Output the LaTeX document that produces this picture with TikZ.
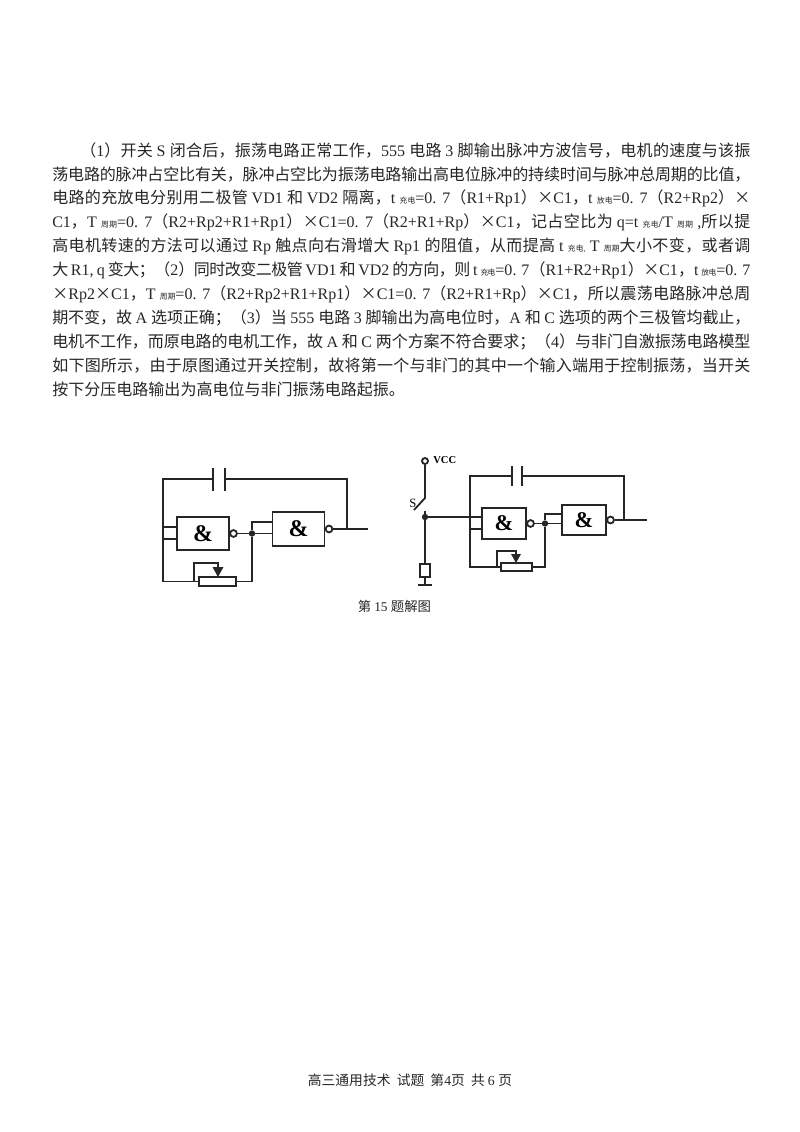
\documentclass[tikz,border=0pt]{standalone}
\usepackage{fontspec}
\setmainfont{Liberation Serif}
\newfontfamily\cjk{Noto Sans CJK SC}
\XeTeXinterchartokenstate=1
\newcount\cjkcode
\cjkcode="4E00
\loop\ifnum\cjkcode<"A000 \XeTeXcharclass\cjkcode=1 \advance\cjkcode by 1 \repeat
\cjkcode="3000
\loop\ifnum\cjkcode<"3040 \XeTeXcharclass\cjkcode=1 \advance\cjkcode by 1 \repeat
\cjkcode="FF00
\loop\ifnum\cjkcode<"FF60 \XeTeXcharclass\cjkcode=1 \advance\cjkcode by 1 \repeat
\XeTeXcharclass`×=1
\XeTeXinterchartoks 0 1={\cjk}
\XeTeXinterchartoks 4095 1={\cjk}
\XeTeXinterchartoks 1 0={\rmfamily}
\XeTeXinterchartoks 4095 0={\rmfamily}
\XeTeXinterchartoks 1 1={\hskip 0pt plus 2pt minus 0.5pt}
\newcommand{\xs}[1]{{\fontsize{5.5}{6}\selectfont #1}}
\tikzset{
  wire/.style={line width=1.3pt,color=black!85},
  textline/.style={anchor=west,inner sep=0pt,font=\fontsize{11.4}{13}\selectfont,color=black!85},
  biggate/.style={draw=black!85,line width=1.3pt,minimum width=1.3cm,minimum height=0.83cm,inner sep=0pt,font=\fontsize{17}{17}\selectfont\bfseries},
  smallgate/.style={draw=black!85,line width=1.3pt,minimum width=1.1cm,minimum height=0.77cm,inner sep=0pt,font=\fontsize{16}{16}\selectfont\bfseries},
  bubble/.style={circle,draw=black!85,line width=1.3pt,fill=white,minimum size=0.17cm,inner sep=0pt},
  rheo/.style={draw=black!85,line width=1.3pt,fill=white,minimum width=0.93cm,minimum height=0.22cm,inner sep=0pt},
  dotj/.style={circle,fill=black!85,minimum size=0.16cm,inner sep=0pt,outer sep=0pt},
}
\begin{document}
\begin{tikzpicture}[x=0.025cm,y=-0.025cm]
\useasboundingbox (0,0) rectangle (800,1132);

% the text
\node[textline] (l1) at (80,150.7) {\hbox to 16.75cm{（1）开关 S 闭合后，振荡电路正常工作，555 电路 3 脚输出脉冲方波信号，电机的速度与该振}};
\node[textline] (l2) at (52,174.6) {\hbox to 17.45cm{荡电路的脉冲占空比有关，脉冲占空比为振荡电路输出高电位脉冲的持续时间与脉冲总周期的比值，}};
\node[textline] (l3) at (52,198.5) {\hbox to 17.45cm{电路的充放电分别用二极管 VD1 和 VD2 隔离，t \xs{充电}=0. 7（R1+Rp1）×C1，t \xs{放电}=0. 7（R2+Rp2）×}};
\node[textline] (l4) at (52,222.4) {\hbox to 17.45cm{C1，T \xs{周期}=0. 7（R2+Rp2+R1+Rp1）×C1=0. 7（R2+R1+Rp）×C1，记占空比为 q=t \xs{充电}/T \xs{周期} ,所以提}};
\node[textline] (l5) at (52,246.3) {\hbox to 17.45cm{高电机转速的方法可以通过 Rp 触点向右滑增大 Rp1 的阻值，从而提高 t \xs{充电,} T \xs{周期}大小不变，或者调}};
\node[textline] (l6) at (52,270.2) {\hbox to 17.45cm{大 R1, q 变大；（2）同时改变二极管 VD1 和 VD2 的方向，则 t \xs{充电}=0. 7（R1+R2+Rp1）×C1，t \xs{放电}=0. 7}};
\node[textline] (l7) at (52,294.1) {\hbox to 17.45cm{×Rp2×C1，T \xs{周期}=0. 7（R2+Rp2+R1+Rp1）×C1=0. 7（R2+R1+Rp）×C1，所以震荡电路脉冲总周}};
\node[textline] (l8) at (52,318) {\hbox to 17.45cm{期不变，故 A 选项正确；（3）当 555 电路 3 脚输出为高电位时，A 和 C 选项的两个三极管均截止，}};
\node[textline] (l9) at (52,341.9) {\hbox to 17.45cm{电机不工作，而原电路的电机工作，故 A 和 C 两个方案不符合要求；（4）与非门自激振荡电路模型}};
\node[textline] (l10) at (52,365.8) {\hbox to 17.45cm{如下图所示，由于原图通过开关控制，故将第一个与非门的其中一个输入端用于控制振荡，当开关}};
\node[textline] (l11) at (52,389.7) {按下分压电路输出为高电位与非门振荡电路起振。};

% left circuit
\node[biggate] (ga) at (203,533.5) {\&};
\node[biggate] (gb) at (298.5,529) {\&};
\node[bubble] (ba) at (ga.east) [xshift=0.09cm] {};
\node[bubble] (bb) at (gb.east) [xshift=0.09cm] {};
\node[rheo] (ra) at (217.5,581.5) {};
\node[dotj] (ja) at (252,533.5) {};
\coordinate (tl) at (163,479);
\coordinate (tr) at (347,479);
\coordinate (ol) at (368,529);
\coordinate (bl) at (163,581.5);
\coordinate (pa) at (213,479);
\coordinate (pb) at (225,479);
\coordinate (hl) at (194,581.5);
\draw[wire] (pa) -- (tl) -- (bl) -- (ra.west);
\draw[wire] (pb) -- (tr) -- (tr |- ol);
\draw[wire] (pa)+(0,-11.5) -- +(0,11.5);
\draw[wire] (pb)+(0,-11.5) -- +(0,11.5);
\draw[wire] (163,527) -- (ga.west |- 163,527);
\draw[wire] (163,539) -- (ga.west |- 163,539);
\draw[wire] (ba) -- (ja);
\draw[wire] (ra.east) -| (ja) -- (252,522) -- (gb.west |- 252,522);
\draw[wire] (ja) -- (gb.west |- 252,533.5);
\draw[wire] (bb) -- (ol);
\draw[wire] (hl) -- (194,563) -- (218,563) -- (218,570);
\fill[black!85] (212.5,567) -- (223.5,567) -- (218,577) -- cycle;

% right circuit
\node[smallgate] (gc) at (504,523.5) {\&};
\node[smallgate] (gd) at (584,520) {\&};
\node[bubble] (bc) at (gc.east) [xshift=0.09cm] {};
\node[bubble] (bd) at (gd.east) [xshift=0.09cm] {};
\node[rheo,minimum width=0.78cm,minimum height=0.2cm] (rb) at (516.5,567) {};
\node[dotj] (jb) at (545,523.5) {};
\node[dotj] (jc) at (425,517) {};
\node[circle,draw=black!85,line width=1.3pt,minimum size=0.15cm,inner sep=0pt] (vc) at (425,461) {};
\node[anchor=west,inner sep=0pt,font=\fontsize{7.5}{8}\selectfont\bfseries] (vt) at (433,460) {VCC};
\node[inner sep=0pt,font=\fontsize{9}{9}\selectfont] (sw) at (413,503) {S};
\node[draw=black!85,line width=1.3pt,minimum width=0.25cm,minimum height=0.33cm,inner sep=0pt] (rc) at (425,570.5) {};
\coordinate (sa) at (425,498);
\coordinate (sb) at (414,510);
\coordinate (sc) at (425,511);
\coordinate (gn) at (425,585);
\coordinate (tm) at (470,476);
\coordinate (tn) at (624,476);
\coordinate (om) at (647,520);
\coordinate (bm) at (470,567);
\coordinate (pc) at (512,476);
\coordinate (pd) at (522,476);
\coordinate (hm) at (497,567);
\draw[wire] (vc) -- (sa) -- (sb);
\draw[wire] (sc) -- (jc) -- (rc);
\draw[wire] (jc) -- (gc.west |- jc);
\draw[wire] (rc) -- (gn);
\draw[wire] (418,585) -- (432,585);
\draw[wire] (pc) -- (tm) -- (bm) -- (rb.west);
\draw[wire] (pd) -- (tn) -- (tn |- om);
\draw[wire] (pc)+(0,-10) -- +(0,10);
\draw[wire] (pd)+(0,-10) -- +(0,10);
\draw[wire] (470,529) -- (gc.west |- 470,529);
\draw[wire] (bc) -- (jb);
\draw[wire] (rb.east) -| (jb) -- (545,514) -- (gd.west |- 545,514);
\draw[wire] (jb) -- (gd.west |- 545,523.5);
\draw[wire] (bd) -- (om);
\draw[wire] (hm) -- (497,551) -- (516,551) -- (516,556);
\fill[black!85] (511,554) -- (521,554) -- (516,563) -- cycle;

% captions
\node[inner sep=0pt,font=\fontsize{9.5}{10}\selectfont,color=black!85] (cap) at (394.5,606) {第 15 题解图};
\node[inner sep=0pt,font=\fontsize{9.8}{11}\selectfont,color=black!85] (foot) at (410,1080) {高三通用技术 \ 试题 \ 第4页 \ 共 6 页};
\end{tikzpicture}
\end{document}
